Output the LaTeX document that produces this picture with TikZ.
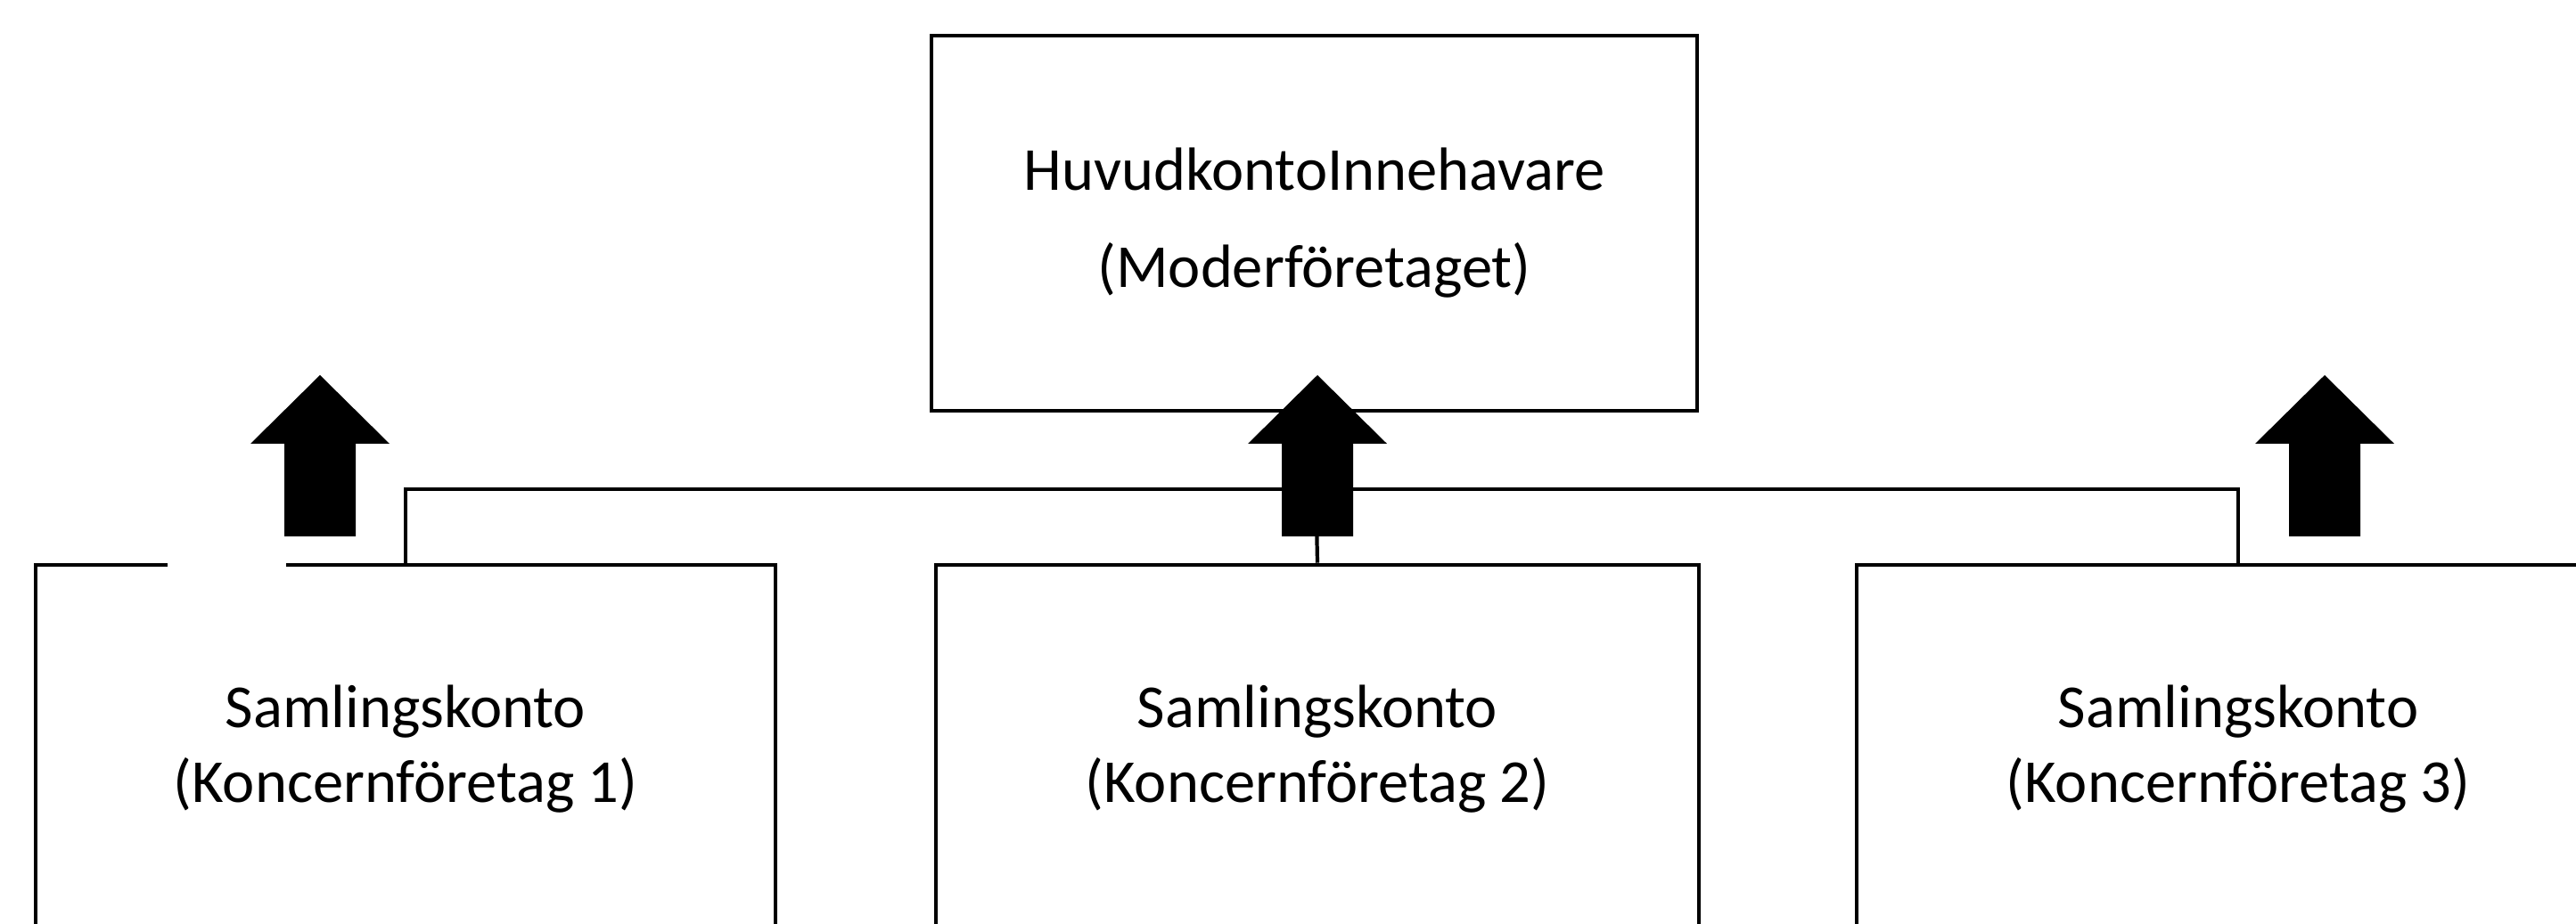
\documentclass[tikz,border=0pt]{standalone}
\usepackage{fontspec}
\setmainfont{Carlito}
\tikzset{
  account/.style={draw=black, line width=1.3pt, align=center, inner sep=0pt},
  subaccount/.style={account, minimum height=4.14cm, font=\fontsize{19.5}{23.9}\selectfont},
  bus/.style={draw=black, line width=1.2pt},
  uparrow/.pic={\fill[black] (-.40,0) -- (-.40,1.04) -- (-.78,1.04) -- (0,1.81) -- (.78,1.04) -- (.40,1.04) -- (.40,0) -- cycle;}
}

\begin{document}
\begin{tikzpicture}
  % page is 28.9 x 10.36, boxes run off the bottom and right
  \useasboundingbox (0,0) rectangle (28.9,10.36);
  \clip (0,0) rectangle (28.9,10.36);
  \node[account, minimum width=8.59cm, minimum height=4.21cm, font=\fontsize{19.5}{31}\selectfont] (hold) at (14.745,7.855) {HuvudkontoInnehavare\\(Moderföretaget)};
  \node[subaccount, minimum width=8.30cm] (k1) at (4.55,1.95) {Samlingskonto\\(Koncernföretag 1)};
  \node[subaccount, minimum width=8.56cm] (k2) at (14.78,1.95) {Samlingskonto\\(Koncernföretag 2)};
  \node[subaccount, minimum width=8.56cm] (k3) at (25.11,1.95) {Samlingskonto\\(Koncernföretag 3)};
  \fill[white] (1.88,3.9) rectangle (3.21,4.15);
  \coordinate (junction) at (14.78,4.87);
  \draw[bus] (k1.north) |- (junction) -| (k3.north);
  \draw[bus] (k2.north) -- (hold.south);
  % block arrows
  \foreach \x in {3.59,14.78,26.08}
    \pic at (\x,4.34) {uparrow};
\end{tikzpicture}
\end{document}
